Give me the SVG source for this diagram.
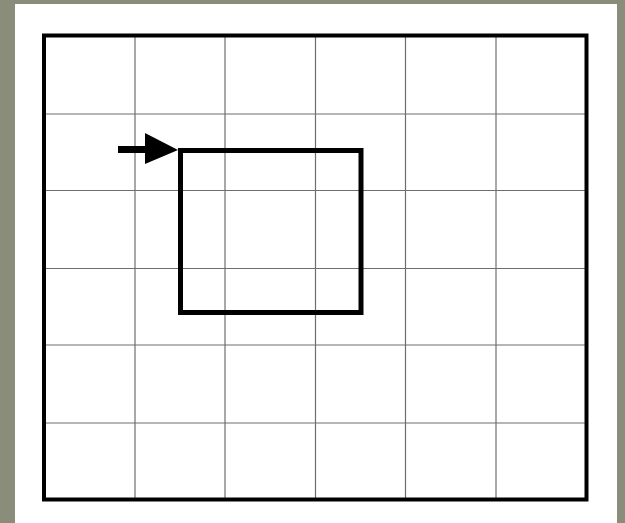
<svg xmlns="http://www.w3.org/2000/svg" width="625" height="523" viewBox="0 0 625 523">
  <style>
    .grid { stroke: #6e6e6e; stroke-width: 1.2; fill: none; }
    .frame { stroke: #000; stroke-width: 4; fill: none; }
    .box { stroke: #000; stroke-width: 5; fill: none; }
  </style>
  <rect x="0" y="0" width="625" height="523" fill="#8b8d7b"/>
  <rect x="15" y="4" width="602" height="519" fill="#ffffff"/>
  <g id="grid">
    <line class="grid" x1="135" y1="36" x2="135" y2="499"/>
    <line class="grid" x1="225" y1="36" x2="225" y2="499"/>
    <line class="grid" x1="315.5" y1="36" x2="315.5" y2="499"/>
    <line class="grid" x1="405.5" y1="36" x2="405.5" y2="499"/>
    <line class="grid" x1="496" y1="36" x2="496" y2="499"/>
    <line class="grid" x1="44" y1="114" x2="586" y2="114"/>
    <line class="grid" x1="44" y1="190.5" x2="586" y2="190.5"/>
    <line class="grid" x1="44" y1="268.5" x2="586" y2="268.5"/>
    <line class="grid" x1="44" y1="345" x2="586" y2="345"/>
    <line class="grid" x1="44" y1="423" x2="586" y2="423"/>
  </g>
  <g id="frame">
    <rect class="frame" x="44" y="35.5" width="542.5" height="464"/>
  </g>
  <g id="box">
    <rect class="box" x="180.5" y="150.5" width="180.5" height="162"/>
  </g>
  <g id="connectors">
    <line x1="118" y1="149.5" x2="150" y2="149.5" stroke="#000" stroke-width="7"/>
    <polygon points="145,133 178,150 145,164" fill="#000"/>
  </g>
</svg>
